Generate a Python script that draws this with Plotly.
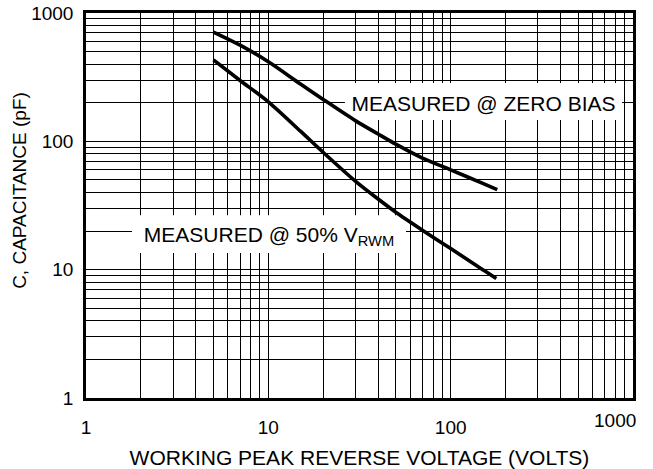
import plotly.graph_objects as go

# Data
zero_bias_v = [5, 7, 10, 15, 20, 30, 40, 50, 70, 100, 150, 180]
zero_bias_c = [711, 562, 417, 280, 212, 145, 114, 95, 74, 60, 47, 42]
half_vrwm_v = [5, 7, 10, 15, 20, 30, 40, 50, 70, 100, 150, 178]
half_vrwm_c = [431, 298, 203, 120, 82, 49, 35.5, 28, 20.3, 14.6, 10, 8.55]

decades = [1, 10, 100, 1000]
decade_labels = ["1", "10", "100", "1000"]
digits = [1, 2, 3, 4, 5, 6, 7, 8, 9]

label_zero = "MEASURED @ ZERO BIAS"
label_half = "MEASURED @ 50% V<sub>RWM</sub>"

FONT = "Liberation Sans, Arial, Helvetica, sans-serif"

grid_vals = []
for d in decades[:-1]:
    for k in digits:
        grid_vals.append(d * k)
grid_vals.append(decades[-1])

y_text = [decade_labels[decades.index(v)] if v in decades else "" for v in grid_vals]
x_text = [decade_labels[decades.index(v)] if v in decades[:-1] else "" for v in grid_vals]

fig = go.Figure()
fig.add_trace(go.Scatter(x=zero_bias_v, y=zero_bias_c, mode="lines",
                         line=dict(color="black", width=3.6, shape="spline", smoothing=0.8),
                         showlegend=False, hoverinfo="skip"))
fig.add_trace(go.Scatter(x=half_vrwm_v, y=half_vrwm_c, mode="lines",
                         line=dict(color="black", width=3.6, shape="spline", smoothing=0.8),
                         showlegend=False, hoverinfo="skip"))

axis_common = dict(
    type="log",
    showgrid=True, gridcolor="black", gridwidth=1,
    showline=True, linecolor="black", linewidth=2.5, mirror=True,
    zeroline=False, ticks="", automargin=False,
    tickfont=dict(family=FONT, size=19, color="black"),
    tickmode="array", tickvals=grid_vals,
)

fig.update_xaxes(**axis_common, ticktext=x_text, range=[0, 3],
                 ticklabelstandoff=10,
                 title=dict(text="WORKING PEAK REVERSE VOLTAGE (VOLTS)",
                            font=dict(family=FONT, size=21, color="black"),
                            standoff=16))
fig.update_yaxes(**axis_common, ticktext=y_text, range=[0, 3],
                 ticklabelstandoff=6)

# white label boxes drawn between the grid and the curves (data coordinates on log axes)
label_font = dict(family=FONT, size=21, color="black")
fig.add_shape(type="rect", xref="x", yref="y",
              x0=26.3, x1=871, y0=146.6, y1=284.4,
              layer="between", fillcolor="white", line=dict(width=0),
              label=dict(text=label_zero, font=label_font,
                         textposition="middle center"))
fig.add_shape(type="rect", xref="x", yref="y",
              x0=1.788, x1=56.9, y0=13.49, y1=26.6,
              layer="between", fillcolor="white", line=dict(width=0),
              label=dict(text=label_half, font=label_font,
                         textposition="middle center"))

annotations = [
    dict(text="1000", xref="x", yref="paper", x=3, y=0, xanchor="right",
         yanchor="top", xshift=5, yshift=-10, showarrow=False,
         font=dict(family=FONT, size=19, color="black")),
    dict(text="C, CAPACITANCE (pF)", xref="paper", yref="paper", x=0, y=0.538,
         xanchor="center", yanchor="middle", xshift=-66, textangle=-90,
         showarrow=False, font=dict(family=FONT, size=19, color="black")),
]

fig.update_layout(
    width=653, height=469,
    margin=dict(l=86, r=20, t=13, b=71, autoexpand=False),
    paper_bgcolor="white", plot_bgcolor="white",
    annotations=annotations,
    font=dict(family=FONT, color="black"),
)

fig.write_html("out.html", config={"displayModeBar": False},
               post_script="document.body.style.margin='0';document.body.style.overflow='hidden';")
